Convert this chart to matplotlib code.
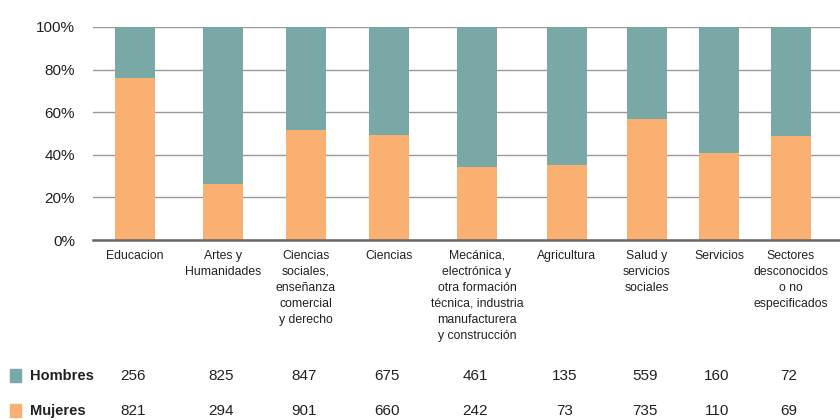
import matplotlib
matplotlib.use("Agg")
from matplotlib import pyplot as plt
from matplotlib.transforms import blended_transform_factory
from matplotlib.patches import Rectangle

plt.rcParams['font.family'] = ['Liberation Sans Narrow', 'Liberation Sans', 'DejaVu Sans']

categories = ["Educacion", "Artes y\nHumanidades",
              "Ciencias\nsociales,\nenseñanza\ncomercial\ny derecho",
              "Ciencias",
              "Mecánica,\nelectrónica y\notra formación\ntécnica, industria\nmanufacturera\ny construcción",
              "Agricultura", "Salud y\nservicios\nsociales", "Servicios",
              "Sectores\ndesconocidos\no no\nespecificados"]
hombres = [256, 825, 847, 675, 461, 135, 559, 160, 72]
mujeres = [821, 294, 901, 660, 242, 73, 735, 110, 69]

# layout (pixel-like units across the 840 px figure)
xpos = [135, 223, 306, 389, 477, 567, 647, 719, 791]
bar_w = 40
col_h = '#78A9A6'
col_m = '#F9B070'

tot = [h + m for h, m in zip(hombres, mujeres)]
pm = [100.0 * m / t for m, t in zip(mujeres, tot)]
ph = [100.0 * h / t for h, t in zip(hombres, tot)]

fig = plt.figure(figsize=(8.4, 4.2), dpi=100)
ax = fig.add_axes([93 / 840, 1 - 240 / 420, 1 - 93 / 840, 213 / 420])

ax.bar(xpos, pm, width=bar_w, color=col_m, zorder=3)
ax.bar(xpos, ph, width=bar_w, bottom=pm, color=col_h, zorder=3)

ax.set_xlim(93, 840)
ax.set_ylim(0, 100)
ax.set_yticks([0, 20, 40, 60, 80, 100])
ax.set_yticklabels(["0%", "20%", "40%", "60%", "80%", "100%"], fontsize=11, color='#222222')
ax.tick_params(axis='y', length=0, pad=13)
ax.grid(axis='y', color='#9a9a9a', lw=1, zorder=0)
ax.set_xticks(xpos)
ax.set_xticklabels(categories, fontsize=8.8, linespacing=1.45, va='top', color='#222222')
ax.tick_params(axis='x', length=0, pad=7)
for s in ['top', 'right', 'left']:
    ax.spines[s].set_visible(False)
ax.spines['bottom'].set_color('#666666')
ax.spines['bottom'].set_linewidth(1.8)
ax.spines['bottom'].set_zorder(4)

# table rows under the chart
tr = blended_transform_factory(ax.transData, fig.transFigure)
rows = [("Hombres", hombres, col_h, 1 - 376 / 420), ("Mujeres", mujeres, col_m, 1 - 411 / 420)]
for name, vals, col, y in rows:
    fig.patches.append(Rectangle((10 / 840, y - 6 / 420), 11 / 840, 13 / 420,
                                 transform=fig.transFigure, color=col))
    fig.text(30 / 840, y, name, fontsize=10.5, fontweight='bold', va='center', color='#222222')
    for x, v in zip(xpos, vals):
        ax.text(x - 2, y, str(v), transform=tr, ha='center', va='center',
                fontsize=11, color='#222222', clip_on=False)

plt.savefig("out.png", dpi=100)
